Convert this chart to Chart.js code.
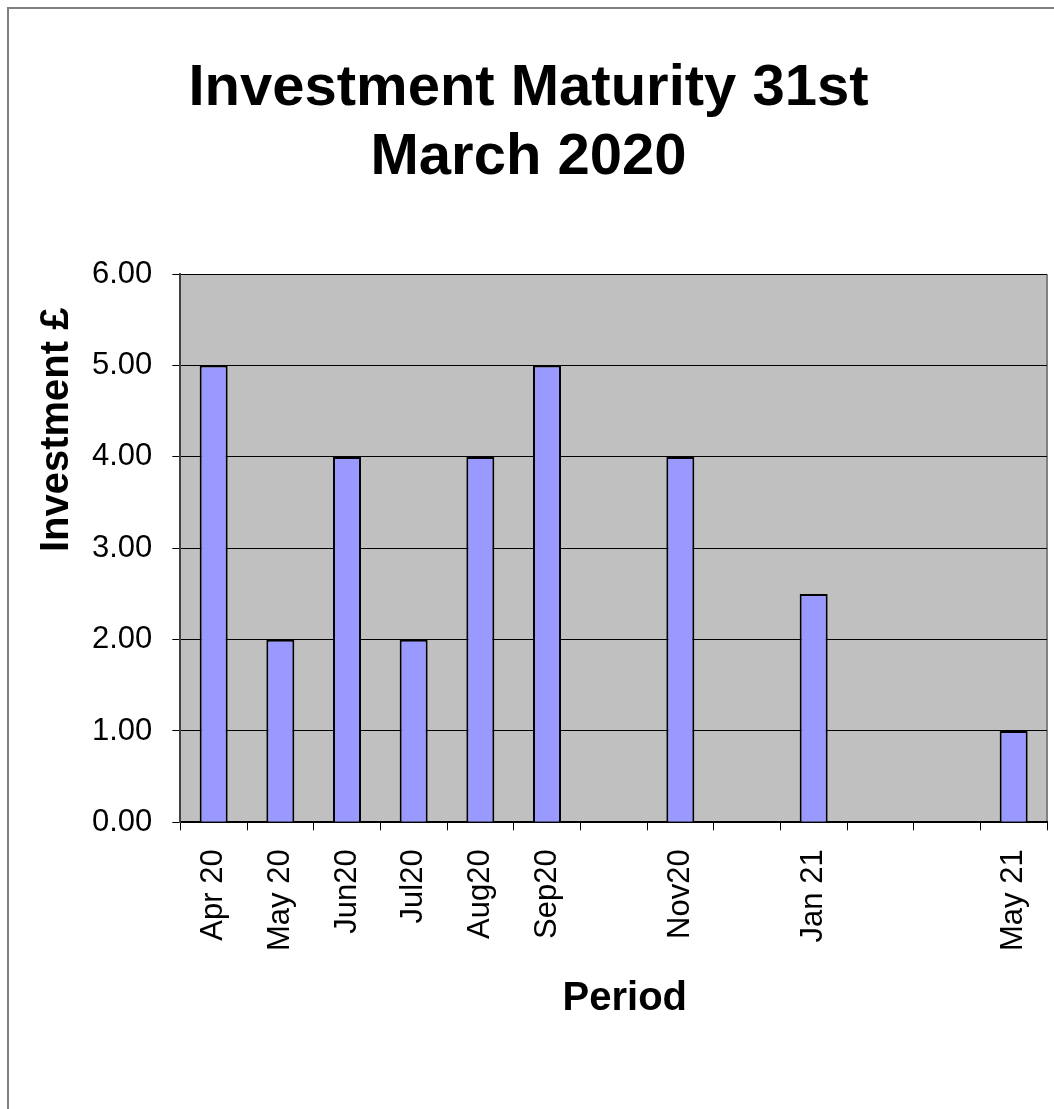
<!DOCTYPE html>
<html>
<head>
<meta charset="utf-8">
<title>Investment Maturity 31st March 2020</title>
<script src="https://cdn.jsdelivr.net/npm/chart.js@4.4.0/dist/chart.umd.min.js"></script>
<style>
  html, body { margin: 0; padding: 0; background: #fff; }
  #frame {
    position: absolute; left: 7px; top: 7px; width: 1100px; height: 1200px;
    border-left: 2px solid #808080; border-top: 2px solid #808080;
  }
  #chart { position: absolute; left: 0; top: 0; }
</style>
</head>
<body>
<div id="frame"></div>
<canvas id="chart" width="1054" height="1109"></canvas>
<script>
// ---- data ----
const periods = ['Apr 20', 'May 20', 'Jun20', 'Jul20', 'Aug20', 'Sep20', '', 'Nov20', '', 'Jan 21', '', '', 'May 21'];
const investment = [5, 2, 4, 2, 4, 5, null, 4, null, 2.5, null, null, 1];
const yTicks = [0, 1, 2, 3, 4, 5, 6];
const titleLines = ['Investment Maturity 31st', 'March 2020'];

const FONT = "'Liberation Sans', Arial, sans-serif";
const NBSP = '\u00A0';

// grey plot area background + right edge
const plotBackground = {
  id: 'plotBackground',
  beforeDraw(chart) {
    const { ctx, chartArea: a } = chart;
    ctx.save();
    ctx.fillStyle = '#C0C0C0';
    ctx.fillRect(a.left, a.top, a.right - a.left, a.bottom - a.top);
    ctx.strokeStyle = '#808080';
    ctx.lineWidth = 2;
    ctx.beginPath();
    ctx.moveTo(a.right, a.top);
    ctx.lineTo(a.right, a.bottom);
    ctx.stroke();
    ctx.restore();
  }
};

new Chart(document.getElementById('chart').getContext('2d'), {
  type: 'bar',
  data: {
    labels: periods,
    datasets: [{
      label: 'Investment',
      data: investment,
      backgroundColor: '#9999FF',
      borderColor: '#000000',
      borderWidth: 2,
      barPercentage: 0.42,
      categoryPercentage: 1.0
    }]
  },
  options: {
    responsive: false,
    animation: false,
    devicePixelRatio: 1,
    layout: { padding: { left: 10, right: 7, top: 0, bottom: 86 } },
    plugins: {
      legend: { display: false },
      tooltip: { enabled: false },
      title: {
        display: true,
        text: titleLines,
        color: '#000',
        font: { family: FONT, size: 58, weight: 'bold', lineHeight: 1.2 },
        padding: { top: 54, bottom: 81 }
      }
    },
    scales: {
      x: {
        offset: true,
        grid: {
          offset: true,
          drawOnChartArea: false,
          drawTicks: true,
          tickLength: 8,
          tickColor: '#000'
        },
        border: { color: '#000', width: 2 },
        ticks: {
          autoSkip: false,
          minRotation: 90,
          maxRotation: 90,
          padding: 19,
          color: '#000',
          // small lineHeight keeps the last rotated label from squeezing the right edge
          font: { family: FONT, size: 31, lineHeight: 0.5 }
        },
        title: {
          display: true,
          // leading spaces nudge the title a little right of the axis centre
          text: NBSP + NBSP + 'Period',
          color: '#000',
          font: { family: FONT, size: 40, weight: 'bold', lineHeight: 1.2 },
          padding: { top: 5, bottom: 0 }
        }
      },
      y: {
        min: yTicks[0],
        max: yTicks[yTicks.length - 1],
        afterBuildTicks(scale) { scale.ticks = yTicks.map(v => ({ value: v })); },
        grid: {
          color: '#000',
          lineWidth: 1,
          drawTicks: true,
          tickLength: 8,
          tickColor: '#000'
        },
        border: { color: '#404040', width: 2 },
        ticks: {
          padding: 20,
          color: '#000',
          font: { family: FONT, size: 31 },
          callback: v => Number(v).toFixed(2)
        },
        title: {
          display: true,
          // anchored to the top, trailing spaces drop it a bit below the top gridline
          text: 'Investment £' + NBSP + NBSP + NBSP,
          align: 'end',
          color: '#000',
          font: { family: FONT, size: 40, weight: 'bold', lineHeight: 1.2 },
          padding: { top: 23, bottom: -9 }
        }
      }
    }
  },
  plugins: [plotBackground]
});
</script>
</body>
</html>
